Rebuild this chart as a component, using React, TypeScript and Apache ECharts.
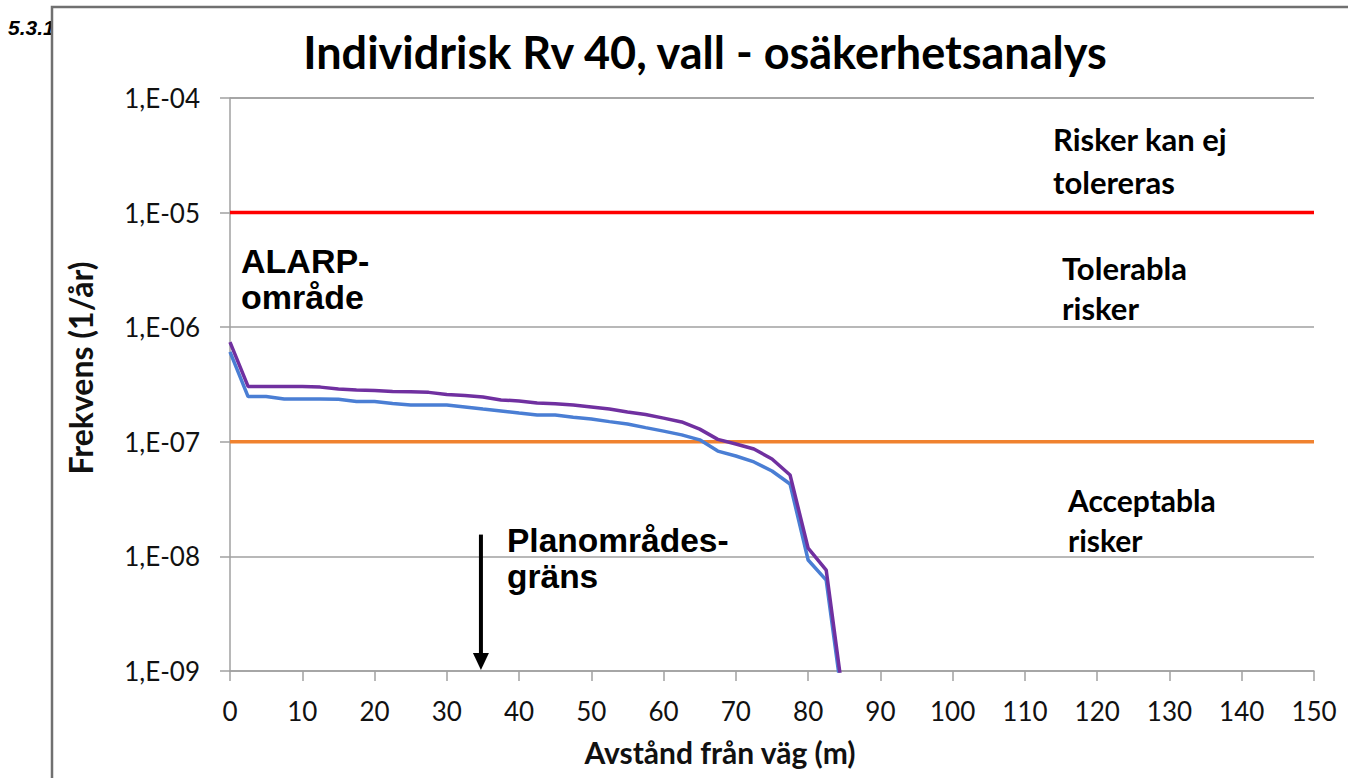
import React, { useEffect, useRef } from "react";
import * as echarts from "echarts";

const distances = [0, 2.5, 5, 7.5, 10, 12.5, 15, 17.5, 20, 22.5, 25, 27.5, 30, 32.5, 35, 37.5, 40, 42.5, 45, 47.5, 50, 52.5, 55, 57.5, 60, 62.5, 65, 67.5, 70, 72.5, 75, 77.5, 80, 82.5, 85];
const riskUpper = [7.4e-7, 3.04e-7, 3.04e-7, 3.04e-7, 3.04e-7, 3.0e-7, 2.89e-7, 2.83e-7, 2.8e-7, 2.75e-7, 2.73e-7, 2.7e-7, 2.59e-7, 2.54e-7, 2.46e-7, 2.32e-7, 2.27e-7, 2.18e-7, 2.15e-7, 2.09e-7, 2.01e-7, 1.93e-7, 1.82e-7, 1.73e-7, 1.61e-7, 1.49e-7, 1.29e-7, 1.05e-7, 9.57e-8, 8.65e-8, 7.08e-8, 5.13e-8, 1.18e-8, 7.6e-9, 5.0e-10];
const riskLower = [6.1e-7, 2.48e-7, 2.48e-7, 2.36e-7, 2.36e-7, 2.36e-7, 2.35e-7, 2.25e-7, 2.25e-7, 2.16e-7, 2.09e-7, 2.09e-7, 2.09e-7, 2.01e-7, 1.93e-7, 1.86e-7, 1.78e-7, 1.71e-7, 1.71e-7, 1.64e-7, 1.58e-7, 1.5e-7, 1.43e-7, 1.33e-7, 1.24e-7, 1.15e-7, 1.04e-7, 8.3e-8, 7.52e-8, 6.67e-8, 5.56e-8, 4.28e-8, 9.3e-9, 6.2e-9, 4.2e-10];
const limitX = [0, 150];
const upperLimit = [1e-5, 1e-5];
const lowerLimit = [1e-7, 1e-7];
const planBoundaryX = 35;

const fmtY = (v: number) => {
  const e = Math.round(Math.log10(v));
  return "1,E-" + String(-e).padStart(2, "0");
};

export default function App() {
  const ref = useRef<HTMLDivElement>(null);
  useEffect(() => {
    if (!ref.current) return;
    const chart = echarts.init(ref.current, null, { renderer: "svg" });
    const calibri = "Lato, 'Open Sans', sans-serif";
    const arial = "'Liberation Sans', Arial, sans-serif";
    chart.setOption({
      animation: false,
      backgroundColor: "#ffffff",
      grid: { left: 230, right: 34, top: 98, bottom: 107, containLabel: false },
      xAxis: {
        type: "value",
        min: 0,
        max: 150,
        interval: 10,
        name: "Avstånd från väg (m)",
        nameLocation: "middle",
        nameGap: 66,
        nameTextStyle: { fontFamily: calibri, fontWeight: "bold", fontSize: 30, color: "#111", padding: [0, 104, 0, 0] },
        axisLine: { show: true, lineStyle: { color: "#a0a0a0", width: 1.5 } },
        axisTick: { show: true, length: 10, lineStyle: { color: "#a0a0a0", width: 1.5 } },
        axisLabel: { fontFamily: calibri, fontSize: 26, color: "#111", margin: 27 },
        splitLine: { show: false },
      },
      yAxis: {
        type: "log",
        logBase: 10,
        min: 1e-9,
        max: 1e-4,
        axisLine: { show: true, lineStyle: { color: "#a0a0a0", width: 1.5 } },
        axisTick: { show: true, length: 10, lineStyle: { color: "#a0a0a0", width: 1.5 } },
        axisLabel: { fontFamily: calibri, fontSize: 26, color: "#111", margin: 30, formatter: fmtY },
        splitLine: { show: true, lineStyle: { color: "#a0a0a0", width: 1.5 } },
      },
      series: [
        {
          name: "Gräns ej tolerabel",
          type: "line",
          data: limitX.map((x, i) => [x, upperLimit[i]]),
          showSymbol: false,
          lineStyle: { color: "#ff0000", width: 3.5 },
          z: 3,
        },
        {
          name: "Gräns acceptabel",
          type: "line",
          data: limitX.map((x, i) => [x, lowerLimit[i]]),
          showSymbol: false,
          lineStyle: { color: "#f0822f", width: 3.5 },
          z: 3,
        },
        {
          name: "Individrisk, osäkerhet",
          type: "line",
          data: distances.map((x, i) => [x, riskLower[i]]),
          showSymbol: false,
          clip: true,
          lineStyle: { color: "#4a7ed4", width: 3.5 },
          z: 4,
        },
        {
          name: "Individrisk",
          type: "line",
          data: distances.map((x, i) => [x, riskUpper[i]]),
          showSymbol: false,
          clip: true,
          lineStyle: { color: "#7030a0", width: 3.5 },
          z: 5,
        },
      ],
    });

    const top = chart.convertToPixel({ gridIndex: 0 }, [planBoundaryX, 1.55e-8]) as number[];
    const bot = chart.convertToPixel({ gridIndex: 0 }, [planBoundaryX, 1e-9]) as number[];
    const ax = top[0] - 2;

    const txt = (text: string, x: number, y: number, font: string, lineHeight: number, align = "left") => ({
      type: "text",
      x,
      y,
      z: 20,
      style: { text, font, lineHeight, fill: "#000", textAlign: align, textVerticalAlign: "middle" },
    });

    chart.setOption({
      graphic: [
        {
          type: "text",
          z: -20,
          x: 8,
          y: 27,
          style: { text: "5.3.1", font: `italic bold 21px ${arial}`, fill: "#000", textVerticalAlign: "middle" },
        },
        {
          type: "rect",
          z: -10,
          shape: { x: 52, y: 7, width: 1400, height: 900 },
          style: { fill: "#ffffff", stroke: "#707070", lineWidth: 2.5 },
        },
        txt("Individrisk Rv 40, vall - osäkerhetsanalys", 705, 52, `bold 45px ${calibri}`, 50, "center"),
        {
          type: "text",
          x: 80,
          y: 368,
          rotation: Math.PI / 2,
          z: 20,
          style: { text: "Frekvens (1/år)", font: `bold 32px ${calibri}`, fill: "#111", textAlign: "center", textVerticalAlign: "middle" },
        },
        txt("Risker kan ej\ntolereras", 1053, 160.5, `bold 31px ${calibri}`, 43),
        txt("Tolerabla\nrisker", 1062, 288, `bold 31px ${calibri}`, 40),
        txt("Acceptabla\nrisker", 1068, 520, `bold 30px ${calibri}`, 40),
        txt("ALARP-\nområde", 241, 279, `bold 34px ${arial}`, 36),
        txt("Planområdes-\ngräns", 507, 558, `bold 33.5px ${arial}`, 36),
        {
          type: "line",
          z: 10,
          shape: { x1: ax, y1: top[1], x2: ax, y2: bot[1] - 14 },
          style: { stroke: "#000", lineWidth: 4 },
        },
        {
          type: "polygon",
          z: 10,
          shape: { points: [[ax - 8, bot[1] - 18], [ax + 8, bot[1] - 18], [ax, bot[1] - 1]] },
          style: { fill: "#000" },
        },
      ],
    });

    return () => chart.dispose();
  }, []);
  return <div ref={ref} style={{ position: "fixed", left: 0, top: 0, width: 1348, height: 778 }} />;
}
